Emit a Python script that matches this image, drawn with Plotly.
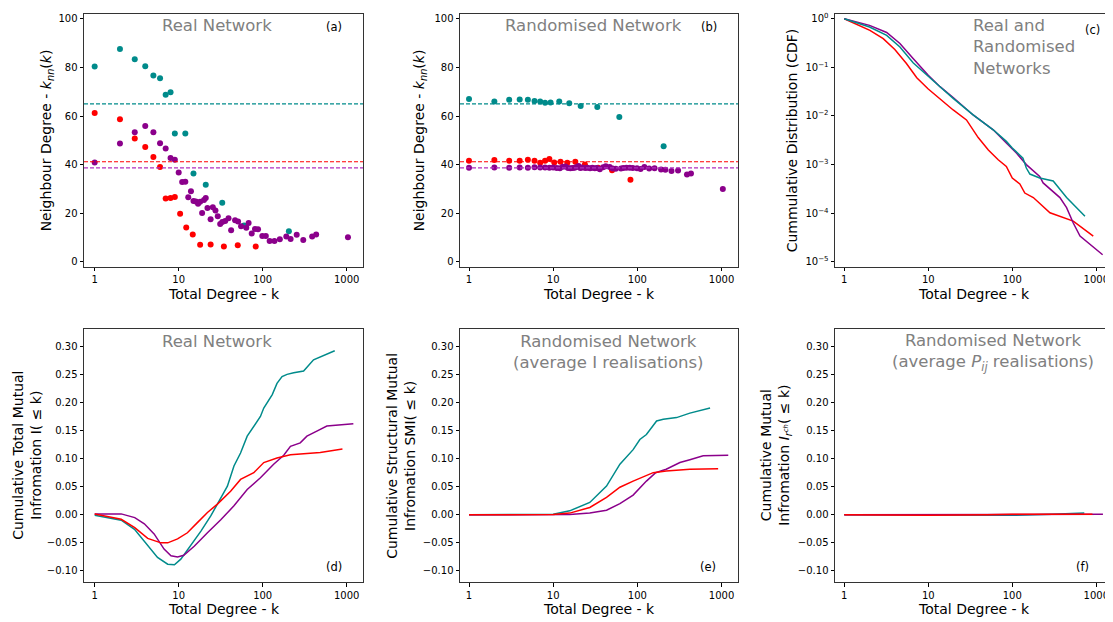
import plotly.graph_objects as go

# page body has an 8px margin: figure is drawn at (8, 8) in the window
OFF = 8
W, H = 1113 - OFF, 622 - OFF
TEAL = "#008b8b"
RED = "#ff0000"
PURP = "#8b008b"
GRAY = "#808080"
FONT = "DejaVu Sans"

# ---------------- Panel (a): real network k_nn(k) ----------------
a_teal_k = [1, 2, 3, 4, 5, 6, 7, 8, 9, 12, 15, 21, 33, 60, 205]
a_teal_v = [80.4, 87.6, 83.4, 80.5, 76.7, 75.6, 68.8, 69.8, 52.8, 52.8, 36.4, 31.7, 24.3, 15.0, 12.6]

a_red_k = [1, 2, 3, 4, 5, 6, 7, 8, 9, 10.4, 12.3, 14.7, 18, 24, 34.5, 50.5, 82.6]
a_red_v = [61.3, 58.7, 50.8, 47.3, 43.2, 39.0, 26.1, 26.3, 26.7, 19.8, 14.1, 11.3, 7.0, 7.1, 6.3, 6.8, 6.3]

purp_k = [1, 2, 3, 4, 5, 6, 7, 8, 9, 10, 11, 12, 13, 14, 15, 16, 17, 18, 19, 20, 21,
          22, 24, 25.5, 27.4, 29.2, 31.2, 33, 35.8, 39.2, 42.1, 46.9, 50.9, 55.3, 63.8,
          68, 74, 81, 88, 99, 109, 121, 138, 160, 191, 215, 254, 304, 388, 433, 1035]
a_purp_v = [40.9, 48.7, 53.3, 55.9, 53.3, 48.8, 46.7, 42.7, 42.0, 36.8, 32.9, 33.0, 26.6,
            29.1, 25.0, 24.8, 23.9, 24.7, 20.1, 25.5, 26.3, 22.2, 17.5, 22.5, 21.1, 18.8,
            15.6, 16.4, 16.8, 18.0, 13.0, 17.1, 16.6, 14.7, 14.0, 16.0, 11.7, 13.5, 13.4,
            10.6, 10.6, 8.6, 8.6, 9.3, 10.4, 9.4, 11.2, 9.0, 10.4, 11.3, 10.1]

# mean neighbour degree (dashed lines)
mean_teal, mean_red, mean_purp = 65.0, 41.2, 38.7

# ---------------- Panel (b): randomised network k_nn(k) ----------------
b_teal_k = [1, 2, 3, 4, 5, 6, 7, 8, 9.3, 11.8, 15.5, 21.2, 33.4, 61, 205]
b_teal_v = [67.0, 66.0, 66.7, 66.8, 66.7, 66.2, 66.0, 65.5, 65.6, 66.0, 65.3, 64.1, 63.7, 59.6, 47.6]

b_red_k = [1, 2, 3, 4, 5, 6, 7, 8, 9, 10.3, 12.2, 14.7, 18.3, 23.8, 34.2, 50, 82.7]
b_red_v = [41.6, 41.9, 41.6, 41.6, 42.0, 41.6, 40.8, 41.6, 42.3, 40.9, 41.2, 40.8, 41.2, 40.1, 38.7, 37.7, 33.8]

b_purp_v = [38.7, 38.8, 38.7, 38.8, 38.7, 38.9, 38.8, 38.8, 38.7, 38.8, 38.6, 38.5, 39.1,
            39.2, 38.6, 38.5, 38.6, 38.7, 39.0, 39.4, 38.6, 38.8, 38.6, 38.7, 38.5, 38.7,
            38.5, 38.6, 38.1, 38.9, 39.3, 39.0, 38.4, 38.3, 38.4, 38.6, 38.7, 38.7, 38.6,
            38.5, 38.2, 39.0, 38.4, 38.5, 38.0, 37.9, 37.4, 37.6, 36.0, 36.4, 30.0]

# ---------------- Panel (c): cumulative degree distribution ----------------
c_red_k = [1, 2.02, 2.91, 4.0, 5.5, 7.3, 10, 13.8, 19.8, 28.5, 39.3, 51.9, 68, 85, 100, 123, 141, 178, 281, 532, 920]
c_red_v = [1.0, 0.577, 0.39, 0.232, 0.12, 0.061, 0.0358, 0.0223, 0.0133, 0.0083, 0.0036, 0.0020,
           0.00126, 9.2e-4, 5.3e-4, 4.0e-4, 2.6e-4, 2.1e-4, 1.02e-4, 6.9e-5, 3.4e-5]

c_teal_k = [1, 2, 3.2, 4.6, 6.6, 10, 13.8, 19.8, 34.2, 59.3, 85, 100, 134, 147, 162, 212, 307, 443, 733]
c_teal_v = [1.0, 0.675, 0.455, 0.263, 0.124, 0.064, 0.040, 0.023, 0.0105, 0.0052, 0.0030, 0.0022,
            0.00136, 8.5e-4, 6.4e-4, 5.3e-4, 4.6e-4, 2.1e-4, 8.7e-5]

c_purp_k = [1, 2, 3.2, 4.6, 6.6, 10, 13.8, 19.8, 34.2, 59.3, 85, 112, 147, 212, 233, 307, 369, 443, 532, 640, 1190]
c_purp_v = [1.0, 0.73, 0.52, 0.31, 0.152, 0.069, 0.040, 0.024, 0.0105, 0.0052, 0.0028, 0.00173,
            1.0e-3, 5.7e-4, 4.2e-4, 2.8e-4, 2.1e-4, 1.3e-4, 6.3e-5, 3.4e-5, 1.4e-5]

# ---------------- Panel (d): cumulative total mutual information ----------------
d_teal_k = [1, 2.07, 2.98, 4.28, 5.6, 7.4, 8.9, 10.6, 13.9, 18.4, 24.1, 31.8, 38, 45.5, 54.5,
            65.4, 78.4, 94, 103, 113, 130, 148, 170, 195, 234, 307, 403, 720]
d_teal_v = [-0.001, -0.0096, -0.026, -0.055, -0.076, -0.088, -0.089, -0.079, -0.055, -0.029,
            -0.002, 0.031, 0.051, 0.087, 0.110, 0.140, 0.158, 0.175, 0.190, 0.199, 0.214,
            0.234, 0.246, 0.250, 0.253, 0.256, 0.276, 0.292]

d_purp_k = [1, 2.07, 3, 3.9, 5.1, 6.7, 8.1, 9.7, 11.5, 15.3, 22, 31.7, 45.5, 65.4, 94, 135,
            178, 214, 280, 336, 441, 580, 1200]
d_purp_v = [0.0016, 0.0016, -0.005, -0.016, -0.034, -0.061, -0.073, -0.075, -0.072, -0.056,
            -0.032, -0.009, 0.016, 0.045, 0.066, 0.090, 0.106, 0.122, 0.128, 0.140, 0.149,
            0.158, 0.162]

d_red_k = [1, 2.07, 3, 4.28, 6.15, 7.4, 9.7, 12.7, 16.7, 22, 28.9, 41.5, 54.5, 78.4, 103,
           148, 214, 307, 484, 890]
d_red_v = [0.0016, -0.008, -0.023, -0.042, -0.050, -0.050, -0.043, -0.032, -0.014, 0.004,
           0.019, 0.042, 0.063, 0.075, 0.093, 0.101, 0.107, 0.109, 0.111, 0.117]

# ---------------- Panel (e): cumulative structural mutual information ----------------
e_teal_k = [1, 4, 6.9, 10, 15.7, 27.2, 43, 62, 89, 107, 128, 147, 169, 203, 292, 420, 730]
e_teal_v = [0.0, 0.0, 0.0005, 0.001, 0.007, 0.022, 0.051, 0.090, 0.116, 0.134, 0.143,
            0.155, 0.167, 0.170, 0.173, 0.181, 0.190]

e_red_k = [1, 10, 15.7, 27.2, 43, 62, 89, 128, 154, 220, 420, 910]
e_red_v = [0.0, 0.0005, 0.003, 0.013, 0.031, 0.049, 0.060, 0.069, 0.075, 0.078, 0.081, 0.082]

e_purp_k = [1, 15.7, 27.2, 43, 62, 89, 128, 165, 220, 320, 420, 604, 1200]
e_purp_v = [0.0, 0.0005, 0.003, 0.008, 0.020, 0.035, 0.060, 0.075, 0.081, 0.093, 0.098,
            0.105, 0.106]

# ---------------- Panel (f): cumulative mutual information (P_ij realisations) ----------------
f_teal_k = [1, 10, 30, 100, 300, 720]
f_teal_v = [0.0, -0.0005, -0.002, -0.001, 0.001, 0.003]
f_purp_k = [1, 10, 100, 500, 1200]
f_purp_v = [0.0, 0.0, 0.0, 0.001, 0.001]
f_red_k = [1, 10, 50, 100, 900]
f_red_v = [0.0, -0.001, 0.0, 0.001, 0.001]

x_tickvals = [1, 10, 100, 1000]
x_ticktext = ["1", "10", "100", "1000"]
knn_ticks = [0, 20, 40, 60, 80, 100]
cdf_tickvals = [1, 1e-1, 1e-2, 1e-3, 1e-4, 1e-5]
cdf_ticktext = ["10<sup>0</sup>", "10<sup>−1</sup>", "10<sup>−2</sup>",
                "10<sup>−3</sup>", "10<sup>−4</sup>", "10<sup>−5</sup>"]
mi_tickvals = [-0.10, -0.05, 0.0, 0.05, 0.10, 0.15, 0.20, 0.25, 0.30]
mi_ticktext = ["−0.10", "−0.05", "0.00", "0.05", "0.10", "0.15", "0.20", "0.25", "0.30"]

# ---------------- figure ----------------
fig = go.Figure()

def px_x(p):
    return (p - OFF) / W

def px_y(p):
    return 1 - (p - OFF) / H

cols = [(84, 363), (460, 738), (835, 1112)]
rows = [(12, 266), (329, 583)]

axis_ids = [(r, c) for r in range(2) for c in range(3)]

def ax_name(i, kind):
    return f"{kind}axis" if i == 0 else f"{kind}axis{i+1}"

def ref(i, kind):
    return kind if i == 0 else f"{kind}{i+1}"

def scatter(i, xs, ys, color):
    fig.add_trace(go.Scatter(x=xs, y=ys, mode="markers", xaxis=ref(i, "x"), yaxis=ref(i, "y"),
                             marker=dict(color=color, size=6, line=dict(width=0)), showlegend=False))

def line(i, xs, ys, color):
    fig.add_trace(go.Scatter(x=xs, y=ys, mode="lines", xaxis=ref(i, "x"), yaxis=ref(i, "y"),
                             line=dict(color=color, width=1.5), showlegend=False))

# panel a
scatter(0, a_teal_k, a_teal_v, TEAL)
scatter(0, a_red_k, a_red_v, RED)
scatter(0, purp_k, a_purp_v, PURP)
# panel b
scatter(1, b_teal_k, b_teal_v, TEAL)
scatter(1, b_red_k, b_red_v, RED)
scatter(1, purp_k, b_purp_v, PURP)
# panel c
line(2, c_red_k, c_red_v, RED)
line(2, c_purp_k, c_purp_v, PURP)
line(2, c_teal_k, c_teal_v, TEAL)
# panel d
line(3, d_teal_k, d_teal_v, TEAL)
line(3, d_purp_k, d_purp_v, PURP)
line(3, d_red_k, d_red_v, RED)
# panel e
line(4, e_teal_k, e_teal_v, TEAL)
line(4, e_purp_k, e_purp_v, PURP)
line(4, e_red_k, e_red_v, RED)
# panel f
line(5, f_teal_k, f_teal_v, TEAL)
line(5, f_purp_k, f_purp_v, PURP)
line(5, f_red_k, f_red_v, RED)

shapes = []
for i in (0, 1):
    for val, col in ((mean_teal, TEAL), (mean_red, RED), (mean_purp, "#b030c0")):
        shapes.append(dict(type="line", xref=f"{ref(i,'x')} domain", yref=ref(i, "y"),
                           x0=0, x1=1, y0=val, y1=val,
                           line=dict(color=col, width=1.2, dash="4px,2px")))

layout = dict(width=W, height=H, margin=dict(l=0, r=0, t=0, b=0),
              plot_bgcolor="white", paper_bgcolor="white",
              font=dict(family=FONT, size=10, color="black"), shapes=shapes)

common_axis = dict(showgrid=False, zeroline=False, showline=True, linecolor="#333333",
                   linewidth=1, mirror=True, ticks="outside", ticklen=3.5, tickwidth=1,
                   tickcolor="black", tickfont=dict(family=FONT, size=10, color="black"))

for i, (r, c) in enumerate(axis_ids):
    x0, x1 = cols[c]
    y0, y1 = rows[r]
    xa = dict(common_axis, type="log", domain=[px_x(x0), min(1.0, px_x(x1))],
              anchor=ref(i, "y"), tickvals=x_tickvals, ticktext=x_ticktext)
    if c == 0:
        xa["range"] = [-0.127, 3.194]
    elif c == 1:
        xa["range"] = [-0.107, 3.195]
    else:
        xa["range"] = [-0.11, 3.187]
    ya = dict(common_axis, domain=[px_y(y1), px_y(y0)], anchor=ref(i, "x"))
    if r == 0 and c < 2:
        ya.update(range=[-2, 102], tickvals=knn_ticks)
    elif r == 0:
        ya.update(type="log", range=[-5.1, 0.097], tickvals=cdf_tickvals, ticktext=cdf_ticktext)
    else:
        ya.update(range=[-0.12, 0.33], tickvals=mi_tickvals, ticktext=mi_ticktext)
    layout[ax_name(i, "x")] = xa
    layout[ax_name(i, "y")] = ya

fig.update_layout(**layout)

def ann(x, y, text, size, color="black", angle=0, xanchor="center", align="center"):
    fig.add_annotation(x=px_x(x), y=px_y(y), xref="paper", yref="paper", text=text,
                       showarrow=False, textangle=angle, xanchor=xanchor, yanchor="middle",
                       align=align, font=dict(family=FONT, size=size, color=color))

# panel titles
ann(217, 24, "Real Network", 16.5, GRAY)
ann(593, 24, "Randomised Network", 16.5, GRAY)
ann(971, 45, "Real and<br>Randomised<br>Networks", 16.5, GRAY, xanchor="left", align="left")
ann(217, 341, "Real Network", 16.5, GRAY)
ann(608, 352, "Randomised Network<br>(average I realisations)", 16.5, GRAY)
ann(993, 352, "Randomised Network<br>(average <i>P<sub>ij</sub></i> realisations)", 16.5, GRAY)

# panel letters
ann(334, 25, "(a)", 11.5)
ann(709, 25, "(b)", 11.5)
ann(1092, 28, "(c)", 11.5)
ann(334, 568, "(d)", 11.5)
ann(708, 568, "(e)", 11.5)
ann(1082, 568, "(f)", 11.5)

# x titles
for (x0, x1) in cols:
    ann((x0 + x1) / 2, 293, "Total Degree - k", 14)
    ann((x0 + x1) / 2, 610, "Total Degree - k", 14)

# y titles
ann(47, 139, "Neighbour Degree - <i>k<sub>nn</sub></i>(<i>k</i>)", 14, angle=-90)
ann(420, 139, "Neighbour Degree - <i>k<sub>nn</sub></i>(<i>k</i>)", 14, angle=-90)
ann(792, 139, "Cummulative Distribution (CDF)", 14, angle=-90)
ann(27, 456, "Cumulative Total Mutual<br>Infromation I( ≤ k)", 14, angle=-90)
ann(401, 456, "Cumulative Structural Mutual<br>Infromation SMI( ≤ k)", 14, angle=-90)
ann(776, 456, "Cumulative Mutual<br>Infromation <i>I<sub>r<sup>ch</sup></sub></i>( ≤ k)", 14, angle=-90)

fig.write_html("out.html")
